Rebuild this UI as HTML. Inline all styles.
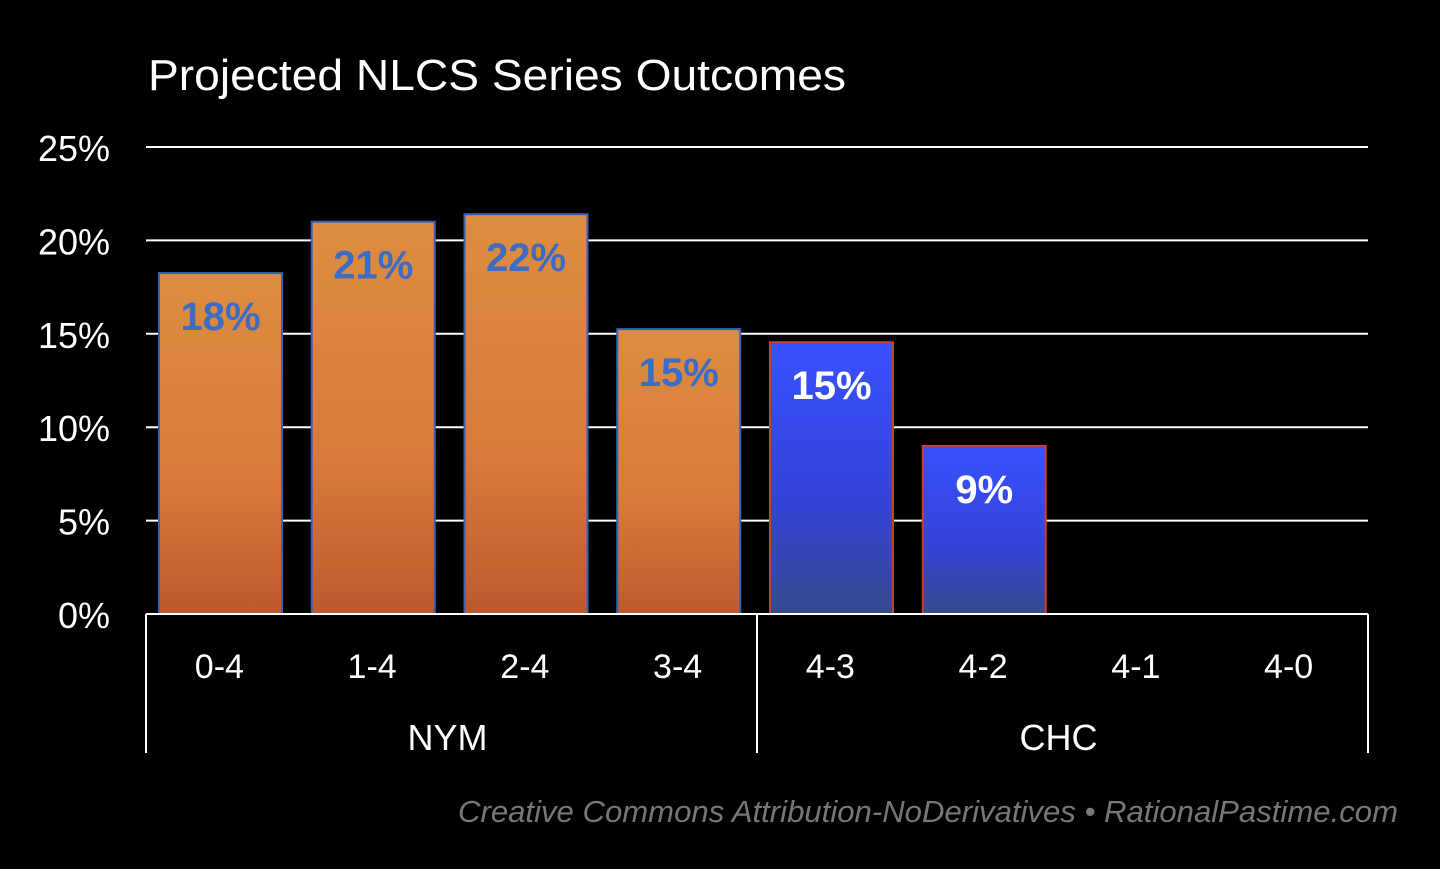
<!DOCTYPE html>
<html><head><meta charset="utf-8"><style>
body{margin:0;background:#000;width:1440px;height:864px;overflow:hidden;font-family:"Liberation Sans",sans-serif}
</style></head><body>
<svg id="chart" width="1440" height="864" xmlns="http://www.w3.org/2000/svg">
<defs>
<linearGradient id="og" x1="0" y1="0" x2="0" y2="1"><stop offset="0" stop-color="#dc8d40"/><stop offset="0.6" stop-color="#d97a3a"/><stop offset="1" stop-color="#bd5a2e"/></linearGradient>
<linearGradient id="bg" x1="0" y1="0" x2="0" y2="1"><stop offset="0" stop-color="#3850ff"/><stop offset="0.6" stop-color="#3344d8"/><stop offset="1" stop-color="#384a8c"/></linearGradient>
</defs>
<text x="148" y="90" fill="#fff" font-size="44" textLength="698" lengthAdjust="spacingAndGlyphs">Projected NLCS Series Outcomes</text>
<g id="grid"></g><g id="bars"></g><g id="axis"></g>
<text x="458" y="822" fill="#777" font-size="31" font-style="italic" textLength="940" lengthAdjust="spacingAndGlyphs">Creative Commons Attribution-NoDerivatives • RationalPastime.com</text>
</svg>
<script>
const categories=["0-4","1-4","2-4","3-4","4-3","4-2","4-1","4-0"];
const values=[18.25,21.0,21.4,15.25,14.55,9.0,0,0];
const labels=["18%","21%","22%","15%","15%","9%","",""];
const teams=["NYM","NYM","NYM","NYM","CHC","CHC","CHC","CHC"];
const groups=["NYM","CHC"];
const yTicks=[0,5,10,15,20,25];
const NS="http://www.w3.org/2000/svg";
const x0=146,x1=1368,yb=614,yt=147,ymax=25;
const bw=(x1-x0)/categories.length;
const y=v=>yb-(v/ymax)*(yb-yt);
const xc=i=>x0+bw*(i+0.5);
function mk(t,a,p){const e=document.createElementNS(NS,t);for(const k in a)e.setAttribute(k,a[k]);p.appendChild(e);return e;}
const grid=document.getElementById('grid'),bars=document.getElementById('bars'),axis=document.getElementById('axis');
yTicks.forEach(v=>{
  if(v>0){const l=mk('line',{x1:x0,x2:x1,y1:y(v),y2:y(v),stroke:'#fff','stroke-width':2},grid);
  
  }
  const t=mk('text',{x:110,y:y(v)+14,fill:'#fff','font-size':36,'text-anchor':'end'},grid);t.textContent=v+'%';
  
  
});
categories.forEach((c,i)=>{
  const chc=teams[i]==="CHC";
  const left=x0+bw*i+13;
  if(values[i]>0){
    const r=mk('rect',{x:left,y:y(values[i]),width:123,height:yb-y(values[i]),fill:chc?'url(#bg)':'url(#og)',stroke:chc?'#c8402a':'#3a60b8','stroke-width':2},bars);
    
    
    const t=mk('text',{x:left+61.5,y:y(values[i])+57,fill:chc?'#fff':'#3d6cc4','font-size':40,'font-weight':'bold','text-anchor':'middle'},bars);
    t.textContent=labels[i];
    
    
  }
  const ct=mk('text',{x:xc(i)-3,y:678,fill:'#fff','font-size':34,'text-anchor':'middle'},axis);ct.textContent=c;
  
  
});
const base=mk('line',{x1:x0,x2:x1,y1:yb,y2:yb,stroke:'#fff','stroke-width':2},axis);


[0,4,8].forEach(k=>{const l=mk('line',{x1:x0+bw*k,x2:x0+bw*k,y1:yb,y2:753,stroke:'#fff','stroke-width':2},axis);
  
  });
groups.forEach((g,j)=>{const t=mk('text',{x:x0+bw*(j*4+2)-4,y:750,fill:'#fff','font-size':36,'text-anchor':'middle'},axis);t.textContent=g;
  
  });
</script>
</body></html>
